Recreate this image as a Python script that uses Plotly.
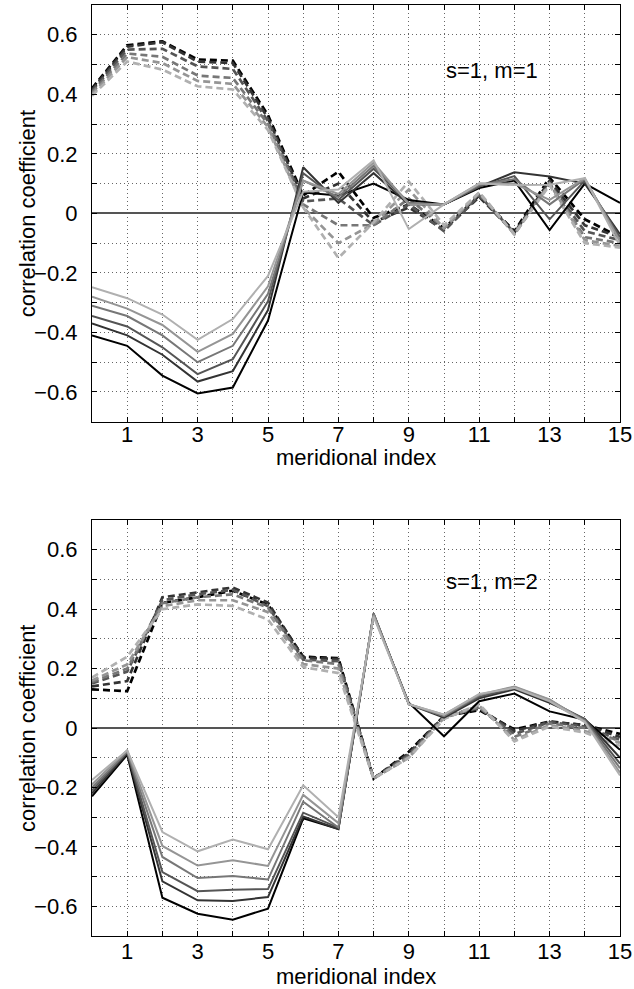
import plotly.graph_objects as go
from plotly.subplots import make_subplots

x_index = list(range(16))

# Panel 1: s=1, m=1  (solid = 6 series dark->light, dashed = 6 series dark->light)
p1_solid = [
    [-0.41, -0.445, -0.545, -0.605, -0.585, -0.36, 0.07, 0.06, 0.10, 0.045, 0.03, 0.085, 0.11, -0.056, 0.10, 0.035],
    [-0.37, -0.41, -0.475, -0.565, -0.53, -0.325, 0.155, 0.035, 0.135, 0.03, 0.03, 0.09, 0.138, 0.124, 0.10, -0.07],
    [-0.345, -0.38, -0.45, -0.54, -0.49, -0.295, 0.135, 0.045, 0.15, 0.035, 0.03, 0.09, 0.125, -0.02, 0.11, -0.08],
    [-0.31, -0.345, -0.41, -0.50, -0.445, -0.27, 0.11, 0.055, 0.16, 0.035, 0.03, 0.095, 0.115, 0.03, 0.115, -0.09],
    [-0.28, -0.32, -0.375, -0.465, -0.405, -0.245, 0.11, 0.065, 0.17, 0.03, 0.03, 0.10, 0.10, 0.045, 0.118, -0.095],
    [-0.248, -0.285, -0.34, -0.425, -0.355, -0.21, 0.073, 0.08, 0.178, -0.053, 0.03, 0.10, 0.095, 0.096, 0.118, -0.11],
]
p1_dashed = [
    [0.42, 0.565, 0.578, 0.517, 0.513, 0.33, 0.06, 0.14, -0.015, 0.03, -0.05, 0.06, -0.06, 0.12, -0.02, -0.08],
    [0.415, 0.56, 0.575, 0.51, 0.505, 0.32, 0.05, 0.10, -0.03, 0.02, -0.055, 0.055, -0.065, 0.11, -0.04, -0.08],
    [0.41, 0.55, 0.553, 0.494, 0.485, 0.31, 0.04, 0.05, -0.04, 0.03, -0.06, 0.06, -0.065, 0.10, -0.06, -0.09],
    [0.405, 0.537, 0.526, 0.463, 0.455, 0.30, 0.03, -0.04, -0.04, 0.05, -0.05, 0.065, -0.07, 0.10, -0.08, -0.10],
    [0.40, 0.525, 0.505, 0.445, 0.435, 0.29, 0.02, -0.10, -0.035, 0.08, -0.05, 0.07, -0.07, 0.10, -0.09, -0.11],
    [0.395, 0.51, 0.483, 0.427, 0.416, 0.28, 0.02, -0.15, -0.03, 0.107, -0.04, 0.07, -0.07, 0.095, -0.10, -0.115],
]

# Panel 2: s=1, m=2
p2_solid = [
    [-0.23, -0.09, -0.571, -0.625, -0.645, -0.608, -0.304, -0.34, 0.38, 0.085, -0.028, 0.09, 0.116, 0.056, 0.028, -0.073],
    [-0.22, -0.085, -0.516, -0.58, -0.582, -0.569, -0.298, -0.34, 0.385, 0.08, 0.035, 0.10, 0.13, 0.085, 0.03, -0.10],
    [-0.21, -0.08, -0.485, -0.549, -0.544, -0.542, -0.285, -0.335, 0.385, 0.08, 0.04, 0.105, 0.135, 0.09, 0.03, -0.12],
    [-0.20, -0.08, -0.434, -0.505, -0.498, -0.51, -0.248, -0.335, 0.385, 0.08, 0.04, 0.11, 0.138, 0.095, 0.025, -0.135],
    [-0.19, -0.075, -0.397, -0.463, -0.445, -0.464, -0.225, -0.32, 0.38, 0.08, 0.045, 0.112, 0.14, 0.096, 0.022, -0.15],
    [-0.175, -0.075, -0.35, -0.415, -0.375, -0.408, -0.193, -0.30, 0.375, 0.08, 0.045, 0.115, 0.135, 0.09, 0.02, -0.16],
]
p2_dashed = [
    [0.13, 0.124, 0.421, 0.44, 0.462, 0.415, 0.24, 0.235, -0.17, -0.08, 0.04, 0.06, -0.005, 0.022, 0.01, -0.02],
    [0.14, 0.158, 0.44, 0.456, 0.473, 0.422, 0.237, 0.232, -0.17, -0.085, 0.04, 0.065, -0.01, 0.02, 0.01, -0.03],
    [0.15, 0.19, 0.43, 0.45, 0.465, 0.41, 0.23, 0.225, -0.17, -0.09, 0.04, 0.07, -0.02, 0.02, 0.005, -0.04],
    [0.155, 0.20, 0.42, 0.44, 0.45, 0.405, 0.228, 0.215, -0.17, -0.095, 0.035, 0.07, -0.03, 0.015, 0.0, -0.045],
    [0.16, 0.214, 0.41, 0.43, 0.43, 0.39, 0.215, 0.20, -0.17, -0.10, 0.035, 0.075, -0.04, 0.01, -0.01, -0.05],
    [0.17, 0.24, 0.40, 0.416, 0.411, 0.365, 0.205, 0.185, -0.17, -0.10, 0.03, 0.08, -0.045, 0.005, -0.015, -0.06],
]

panel_labels = ["s=1, m=1", "s=1, m=2"]
x_title = "meridional index"
y_title = "correlation coefficient"
x_ticks = list(range(16))
x_ticktext = [str(v) if v % 2 == 1 else "" for v in x_ticks]
y_ticks = [round(-0.7 + 0.1 * i, 1) for i in range(15)]
y_label_map = {-0.6: "\u22120.6", -0.4: "\u22120.4", -0.2: "\u22120.2", 0.0: "0", 0.2: "0.2", 0.4: "0.4", 0.6: "0.6"}
y_ticktext = [y_label_map.get(v, "") for v in y_ticks]

grays = ["#000000", "#333333", "#555555", "#777777", "#959595", "#b0b0b0"]

FONT = "Liberation Sans, Arial, sans-serif"
FS = 22

W, H = 634, 989
ML, MR, MT, MB = 92, 14, 5, 53
top_dom = [0.5524, 1.0]
bot_dom = [0.0, 0.4468]

fig = make_subplots(rows=2, cols=1, vertical_spacing=0.1)
fig.update_layout(yaxis=dict(domain=top_dom), yaxis2=dict(domain=bot_dom))

panels = [(p1_solid, p1_dashed), (p2_solid, p2_dashed)]
for r, (sol, das) in enumerate(panels, start=1):
    for k, ys in enumerate(das):
        fig.add_trace(go.Scatter(x=x_index, y=ys, mode="lines",
                                 line=dict(color=grays[k], width=2.7, dash="7px,4px"),
                                 showlegend=False, hoverinfo="skip"), row=r, col=1)
    for k, ys in enumerate(sol):
        fig.add_trace(go.Scatter(x=x_index, y=ys, mode="lines",
                                 line=dict(color=grays[k], width=2),
                                 showlegend=False, hoverinfo="skip"), row=r, col=1)

axis_common = dict(showline=True, linecolor="black", linewidth=1.2, mirror="ticks",
                   ticks="inside", ticklen=5, tickcolor="black", tickwidth=1,
                   showgrid=True, gridcolor="#666666", gridwidth=1, griddash="1px,3px",
                   automargin=False,
                   tickfont=dict(family=FONT, size=FS, color="black"))

for r, standoff in ((1, -7), (2, -5)):
    fig.update_xaxes(range=[0, 15], tickvals=x_ticks, ticktext=x_ticktext, zeroline=False,
                     ticklabeloverflow="allow", ticklabelstandoff=standoff,
                     row=r, col=1, **axis_common)
    fig.update_yaxes(range=[-0.7, 0.7], tickvals=y_ticks, ticktext=y_ticktext,
                     zeroline=True, zerolinecolor="#555555", zerolinewidth=1.5,
                     ticklabelstandoff=9,
                     row=r, col=1, **axis_common)

plot_h = H - MT - MB
def paper_y(px):
    return (H - MB - px) / plot_h

# axis titles as positioned text
for yc_px in [457, 976]:
    fig.add_annotation(x=0.5, xref="paper", y=paper_y(yc_px), yref="paper", text=x_title,
                       showarrow=False, yanchor="middle", borderpad=0,
                       font=dict(family=FONT, size=FS, color="black"))
for yc_px in [(5 + 421.7) / 2, (520 + 936) / 2]:
    fig.add_annotation(x=(27 - ML) / (W - ML - MR), xref="paper", y=paper_y(yc_px), yref="paper",
                       text=y_title, textangle=-90, showarrow=False, yanchor="middle", xanchor="center",
                       font=dict(family=FONT, size=FS, color="black"))

fig.add_annotation(x=11.36, y=0.48, xref="x", yref="y", text=panel_labels[0], showarrow=False,
                   font=dict(family=FONT, size=FS, color="black"))
fig.add_annotation(x=11.36, y=0.494, xref="x2", yref="y2", text=panel_labels[1], showarrow=False,
                   font=dict(family=FONT, size=FS, color="black"))

fig.update_layout(width=W, height=H, margin=dict(l=ML, r=MR, t=MT, b=MB),
                  plot_bgcolor="white", paper_bgcolor="white",
                  font=dict(family=FONT, size=FS, color="black"))

fig.write_html("out.html", config={"displayModeBar": False},
               post_script="document.body.style.margin='0px';")
